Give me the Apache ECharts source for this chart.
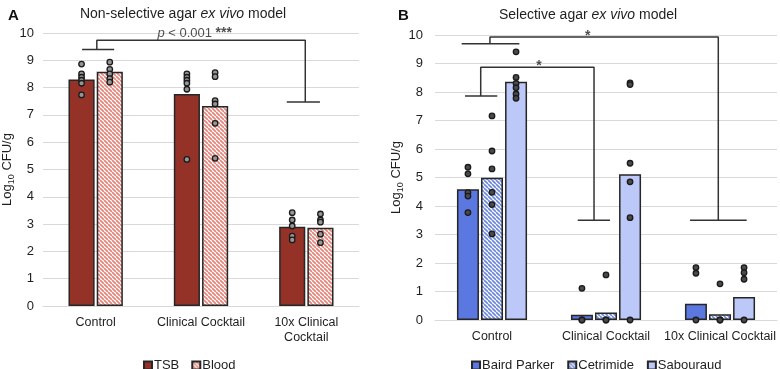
<!DOCTYPE html>
<html>
<head>
<meta charset="utf-8">
<script src="https://cdn.jsdelivr.net/npm/echarts@6/dist/echarts.min.js"></script>
<style>
html,body{margin:0;padding:0;background:#fff;}
#chart{width:780px;height:369px;}
</style>
</head>
<body>
<div id="chart"></div>
<script>
// ---------- Data ----------
const categoriesA = ['Control', 'Clinical Cocktail', '10x Clinical\nCocktail'];
const tsbMeans = [8.30, 7.77, 2.90];
const bloodMeans = [8.58, 7.33, 2.87];
const tsbPoints = [
  [8.86, 8.50, 8.38, 8.27, 8.16, 7.73],
  [8.50, 8.38, 8.27, 8.16, 7.94, 5.37],
  [3.42, 3.15, 2.93, 2.56, 2.42]
];
const bloodPoints = [
  [8.93, 8.67, 8.50, 8.33, 8.20],
  [8.55, 8.40, 7.52, 7.40, 6.69, 5.41],
  [3.37, 3.15, 3.07, 2.63, 2.32]
];

const categoriesB = ['Control', 'Clinical Cocktail', '10x Clinical Cocktail'];
const bairdMeans = [4.59, 0.18, 0.57];
const cetrimideMeans = [4.99, 0.26, 0.20];
const sabouraudMeans = [8.36, 5.11, 0.81];
const bairdPoints = [
  [5.36, 5.13, 4.47, 4.35, 3.77],
  [1.11, 0, 0],
  [1.84, 1.64, 0]
];
const cetrimidePoints = [
  [7.16, 5.93, 5.30, 4.48, 4.05, 3.02],
  [1.58, 0, 0],
  [1.27, 0, 0]
];
const sabouraudPoints = [
  [9.41, 8.51, 8.30, 8.15, 7.93, 7.78],
  [8.32, 8.26, 5.50, 4.85, 3.59, 0],
  [1.84, 1.66, 1.43, 0]
];
const yTicks = [0, 1, 2, 3, 4, 5, 6, 7, 8, 9, 10];

// Significance brackets (annotation geometry in band units 0..3, log10 values)
const bracketsA = [
  [[0.371, 9.40], [0.676, 9.40]],
  [[0.511, 9.40], [0.511, 9.73], [2.49, 9.73], [2.49, 7.47]],
  [[2.314, 7.47], [2.629, 7.47]]
];
const bracketsB = [
  [[0.234, 9.69], [0.740, 9.69]],
  [[0.482, 9.69], [0.482, 9.93], [2.485, 9.93], [2.485, 3.50]],
  [[2.237, 3.50], [2.734, 3.50]],
  [[0.263, 7.86], [0.546, 7.86]],
  [[0.401, 7.86], [0.401, 8.87], [1.395, 8.87], [1.395, 3.50]],
  [[1.252, 3.50], [1.535, 3.50]]
];
const notesA = [{pos: [1.44, 9.98], text: '{i|p} < 0.001 {b|***}'}];
const notesB = [{pos: [1.34, 9.97], text: '{b|*}'}, {pos: [0.912, 8.90], text: '{b|*}'}];

// ---------- Styling ----------
const FONT = '"Liberation Sans", Arial, sans-serif';
const TXT = '#1f1f1f';
const GRID = '#d9d9d9';
const EDGE = '#262626';

function stripes(fg, bg) {
  const s = 4;
  const c = document.createElement('canvas');
  c.width = s; c.height = s;
  const g = c.getContext('2d');
  g.fillStyle = bg; g.fillRect(0, 0, s, s);
  g.strokeStyle = fg; g.lineWidth = 1.7;
  for (let k = -s; k <= s; k += s) {
    g.beginPath(); g.moveTo(k, 0); g.lineTo(k + s, s); g.stroke();
  }
  return {image: c, repeat: 'repeat'};
}

const colTSB = '#953228';
const colBlood = stripes('#e2857b', '#ffffff');
const colBaird = '#5b77e0';
const colCet = stripes('#6f89da', '#ffffff');
const colSab = '#bcc8f7';

// layout of bars inside a band (fractions of band)
const barA = 0.248, gapA = 0.02;
const barB = 0.193, gapB = 0.018;

function dotSeries(points, offset, xAxisIndex, yAxisIndex, fill) {
  const data = [];
  points.forEach((arr, i) => arr.forEach(v => data.push([i + 0.5 + offset, v])));
  return {
    type: 'scatter', xAxisIndex, yAxisIndex, data, symbolSize: 5.5, z: 5, silent: true,
    itemStyle: {color: fill, borderColor: '#1a1a1a', borderWidth: 1.3, opacity: 1}
  };
}
function bracketSeries(list, xAxisIndex, yAxisIndex) {
  return list.map(seg => ({
    type: 'line', xAxisIndex, yAxisIndex, data: seg, symbol: 'none', z: 6, silent: true,
    lineStyle: {color: '#333333', width: 1.5}, animation: false
  }));
}
function noteSeries(list, xAxisIndex, yAxisIndex) {
  return {
    type: 'scatter', xAxisIndex, yAxisIndex, symbolSize: 0, z: 7, silent: true,
    data: list.map(n => ({value: n.pos, label: {formatter: n.text}})),
    label: {
      show: true, position: 'inside', color: TXT, fontFamily: FONT, fontSize: 13,
      rich: {
        i: {fontStyle: 'italic', fontSize: 13, fontFamily: FONT, color: TXT},
        b: {fontWeight: 'bold', fontSize: 14, fontFamily: FONT, color: TXT}
      }
    }
  };
}
function barSeries(name, data, color, xAxisIndex, yAxisIndex, width, gap) {
  return {
    name, type: 'bar', xAxisIndex, yAxisIndex, data,
    barWidth: (width * 100) + '%', barGap: (gap / width * 100) + '%',
    itemStyle: {color, borderColor: EDGE, borderWidth: 1.5}, z: 3
  };
}

function yAxis(gridIndex, nameGap, labelMargin) {
  return {
    type: 'value', gridIndex, min: yTicks[0], max: yTicks[yTicks.length - 1], interval: 1,
    name: '{a|Log}{s|10}{a| CFU/g}', nameLocation: 'middle', nameRotate: 90, nameGap,
    nameTextStyle: {
      color: TXT, fontFamily: FONT,
      rich: {
        a: {fontSize: 13, fontFamily: FONT, color: TXT, lineHeight: 16},
        s: {fontSize: 9, fontFamily: FONT, color: TXT, lineHeight: 16, verticalAlign: 'bottom', padding: [5, 0, 0, 0]}
      }
    },
    axisLine: {show: false}, axisTick: {show: false},
    axisLabel: {color: TXT, fontFamily: FONT, fontSize: 13, margin: labelMargin},
    splitLine: {lineStyle: {color: GRID, width: 1}}
  };
}
function catAxis(gridIndex, cats) {
  return {
    type: 'category', gridIndex, data: cats,
    axisLine: {lineStyle: {color: GRID, width: 1}}, axisTick: {show: false},
    axisLabel: {color: TXT, fontFamily: FONT, fontSize: 12.5, margin: 9, lineHeight: 15, interval: 0}
  };
}
function bandAxis(gridIndex) {
  return {type: 'value', gridIndex, min: 0, max: 3, show: false, splitLine: {show: false}};
}

const option = {
  animation: false,
  backgroundColor: '#ffffff',
  textStyle: {fontFamily: FONT},
  title: [
    {text: 'A', left: 3, top: 3, textStyle: {fontFamily: FONT, fontWeight: 'bold', fontSize: 15, color: '#111'}},
    {text: 'B', left: 393, top: 3, textStyle: {fontFamily: FONT, fontWeight: 'bold', fontSize: 15, color: '#111'}},
    {text: 'Non-selective agar {i|ex vivo} model', left: 178, textAlign: 'center', top: 2,
     textStyle: {fontFamily: FONT, fontWeight: 'normal', fontSize: 14, color: TXT,
       rich: {i: {fontStyle: 'italic', fontFamily: FONT, fontSize: 14, color: TXT}}}},
    {text: 'Selective agar {i|ex vivo} model', left: 583, textAlign: 'center', top: 3,
     textStyle: {fontFamily: FONT, fontWeight: 'normal', fontSize: 14, color: TXT,
       rich: {i: {fontStyle: 'italic', fontFamily: FONT, fontSize: 14, color: TXT}}}}
  ],
  grid: [
    {left: 43, right: 421, top: 33, bottom: 63},
    {left: 435, right: 3, top: 35, bottom: 49}
  ],
  xAxis: [catAxis(0, categoriesA), bandAxis(0), catAxis(1, categoriesB), bandAxis(1)],
  yAxis: [yAxis(0, 25, 9), yAxis(1, 29, 12)],
  legend: [
    {data: ['TSB', 'Blood'], left: 138, top: 354, itemWidth: 8, itemHeight: 8, itemGap: 12, icon: 'rect',
     textStyle: {fontFamily: FONT, fontSize: 13, color: TXT, padding: [0, 0, 0, -3]}},
    {data: ['Baird Parker', 'Cetrimide', 'Sabouraud'], left: 466, top: 354, itemWidth: 8, itemHeight: 8, itemGap: 13, icon: 'rect',
     textStyle: {fontFamily: FONT, fontSize: 13, color: TXT, padding: [0, 0, 0, -3]}}
  ],
  series: [
    barSeries('TSB', tsbMeans, colTSB, 0, 0, barA, gapA),
    barSeries('Blood', bloodMeans, colBlood, 0, 0, barA, gapA),
    dotSeries(tsbPoints, -(barA + gapA) / 2, 1, 0, '#959595'),
    dotSeries(bloodPoints, (barA + gapA) / 2, 1, 0, '#959595'),
    ...bracketSeries(bracketsA, 1, 0),
    noteSeries(notesA, 1, 0),

    barSeries('Baird Parker', bairdMeans, colBaird, 2, 1, barB, gapB),
    barSeries('Cetrimide', cetrimideMeans, colCet, 2, 1, barB, gapB),
    barSeries('Sabouraud', sabouraudMeans, colSab, 2, 1, barB, gapB),
    dotSeries(bairdPoints, -(barB + gapB), 3, 1, '#4a4a4a'),
    dotSeries(cetrimidePoints, 0, 3, 1, '#4a4a4a'),
    dotSeries(sabouraudPoints, (barB + gapB), 3, 1, '#4a4a4a'),
    ...bracketSeries(bracketsB, 3, 1),
    noteSeries(notesB, 3, 1)
  ]
};

const chart = echarts.init(document.getElementById('chart'), null, {renderer: 'canvas'});
chart.setOption(option);
</script>
</body>
</html>
